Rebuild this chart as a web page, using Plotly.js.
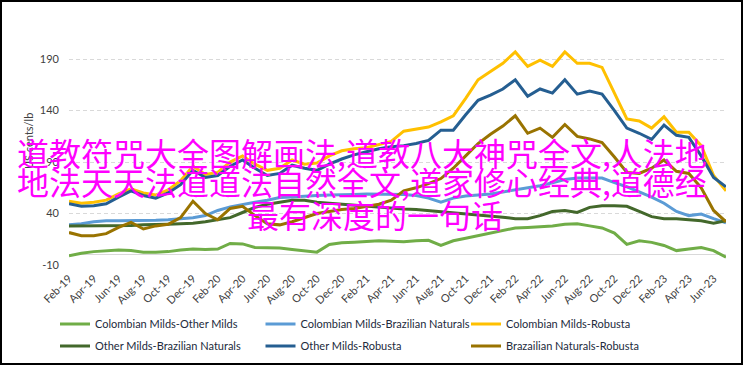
<!DOCTYPE html>
<html><head><meta charset="utf-8">
<script src="https://cdn.plot.ly/plotly-3.0.1.min.js"></script>
<style>html,body{margin:0;padding:0;background:#fff;overflow:hidden}#chart{width:744px;height:366px}</style>
</head><body><div id="chart"></div>
<script>
const months = ["Feb-19","Mar-19","Apr-19","May-19","Jun-19","Jul-19","Aug-19","Sep-19","Oct-19","Nov-19","Dec-19",
"Jan-20","Feb-20","Mar-20","Apr-20","May-20","Jun-20","Jul-20","Aug-20","Sep-20","Oct-20","Nov-20","Dec-20",
"Jan-21","Feb-21","Mar-21","Apr-21","May-21","Jun-21","Jul-21","Aug-21","Sep-21","Oct-21","Nov-21","Dec-21",
"Jan-22","Feb-22","Mar-22","Apr-22","May-22","Jun-22","Jul-22","Aug-22","Sep-22","Oct-22","Nov-22","Dec-22",
"Jan-23","Feb-23","Mar-23","Apr-23","May-23","Jun-23","Jul-23"];
const tickLabels = ["Feb-19","Apr-19","Jun-19","Aug-19","Oct-19","Dec-19","Feb-20","Apr-20","Jun-20","Aug-20","Oct-20","Dec-20",
"Feb-21","Apr-21","Jun-21","Aug-21","Oct-21","Dec-21","Feb-22","Apr-22","Jun-22","Aug-22","Oct-22","Dec-22","Feb-23","Apr-23","Jun-23"];
const yTicks = [-10, 40, 90, 140, 190];

const colMildsOtherMilds = [-1,1.5,3,4,4.5,4,2.5,2.5,3,4.5, 5.5,5,5.5,11,10.5,7,6.5,6.5,5,3.5, 2.5,10,11.5,12,12.5,13.5,13,12.5,13.5,14, 9,13.5,16,18.5,21,23.5,26,26.5,27,28, 29.5,30,28,26,21,10,13.5,12,9,4, 5.5,7,4,-2.5];
const colMildsBrazNat = [29,30,32,33,33,33,33,33.5,34,35, 36,38,43,46.5,49,51,53,55.5,56,57, 57.5,58,58,58.5,59,59,59,58.5,57.5,55, 51,55,57,58,59,61,63,65,67,70, 73,74.5,74.5,74.5,70,66,61,56,50,42, 38,39.5,35,31];
const colMildsRobusta = [52,50,51,53,59,64,60,58,63,72, 86,78,80,90,96,88,82,84,92,88, 89,96,101,103,104,107,110,120,122,124, 129,135,152,170,178,186,197,183,189,183, 197,186,186,182,157,132,130,123,134,119, 119,106,77,62];
const otherMildsBrazNat = [28,28,28,28,28,28.5,29,29,29.5,30, 30.5,32,34,36,41,46,49,51,53,53, 51,50,49,48,47,46,45.5,44.5,44,43, 42,41,40,39,38,36.5,35,35,38,42, 43,41,46,47.5,47.5,47,42,37,35,35, 34,33,30.5,33];
const otherMildsRobusta = [49.5,47,47.5,49.5,56,62,57.5,55,60,68, 82,75,77,86,92,84,77,79,87,84, 82,88,93,97,100,103,105,106,108,111, 121,121,136,150,155,161,170,154,161,157, 170,156,159,156,140,123,118,112,126,116, 114,96,75,66];
const brazNatRobusta = [21.5,18.5,18.5,20.5,26.5,31.5,25,28,29.5,36, 52,40,34,45,47,38,30,29,32,36, 40,42,44,45,47,49,53,62,65,69, 74,84,96,108,117,125,135,118,123,114, 126.5,115,112.5,109,95,80,79,84,92,81, 79,65,43,32];

const seriesNames = ["Colombian Milds-Other Milds","Colombian Milds-Brazilian Naturals","Colombian Milds-Robusta",
"Other Milds-Brazilian Naturals","Other Milds-Robusta","Brazailian Naturals-Robusta"];
const seriesValues = [colMildsOtherMilds, colMildsBrazNat, colMildsRobusta, otherMildsBrazNat, otherMildsRobusta, brazNatRobusta];
const seriesColors = ["#70AD47","#5B9BD5","#FFC000","#43682B","#255E91","#997300"];

const overlayLines = ["道教符咒大全图解画法,道教八大神咒全文,人法地","地法天天法道道法自然全文,道家修心经典,道德经","最有深度的一句话"];

// plot geometry (pixels)
const W = 744, H = 366, L = 69, R = 18, T = 18, B = 101;
const pw = W - L - R, ph = H - T - B;
const px = x => (x - L) / pw;
const py = y => (H - B - y) / ph;

const traces = seriesNames.map((n, k) => ({
  type: 'scatter', mode: 'lines', name: n, x: months, y: seriesValues[k],
  line: {color: seriesColors[k], width: 3},
  legend: k < 3 ? 'legend' : 'legend2', hoverinfo: 'skip'
}));

const baseFont = {family: 'Lato, "Open Sans", sans-serif', size: 11, color: '#404040'};
const legendCommon = {orientation: 'h', xanchor: 'left', yanchor: 'middle', x: px(55),
  font: {family: 'Lato, sans-serif', size: 11, color: '#222a3c'}, entrywidth: 160.5, entrywidthmode: 'pixels',
  bgcolor: 'rgba(0,0,0,0)', borderwidth: 0, itemclick: false};

const layout = {
  width: W, height: H, margin: {l: L, r: R, t: T, b: B, pad: 0, autoexpand: false},
  paper_bgcolor: '#fff', plot_bgcolor: '#fff', font: baseFont, showlegend: true,
  xaxis: {type: 'category', range: [0, months.length - 1], tickmode: 'array', tickvals: tickLabels, ticktext: tickLabels,
    tickangle: -45, showgrid: false, zeroline: false, showline: false, ticks: '', ticklabelstandoff: 4, tickfont: baseFont, automargin: false},
  yaxis: {range: [-10, 230], tickmode: 'array', tickvals: yTicks, ticktext: yTicks.map(String), showgrid: true,
    gridcolor: '#d9d9d9', griddash: '4px,3px', gridwidth: 1, zeroline: true, zerolinecolor: '#d9d9d9', zerolinewidth: 1,
    showline: false, ticks: '', ticklabelstandoff: 9, tickfont: baseFont, automargin: false},
  legend: Object.assign({}, legendCommon, {y: py(324)}),
  legend2: Object.assign({}, legendCommon, {y: py(346)}),
  annotations: [
    {text: 'US cents/lb', xref: 'paper', yref: 'paper', x: 0, xshift: 28 - L, y: py(141), xanchor: 'center', yanchor: 'middle',
     textangle: -90, showarrow: false, font: {family: 'Lato, sans-serif', size: 11, color: '#404040'}},
    {text: overlayLines[0], xref: 'paper', yref: 'paper', x: px(15), y: py(152), xanchor: 'left', yanchor: 'middle', showarrow: false,
     font: {family: '"Noto Sans CJK SC", sans-serif', size: 32, color: '#ff00ff'}},
    {text: overlayLines[1], xref: 'paper', yref: 'paper', x: px(15), y: py(181), xanchor: 'left', yanchor: 'middle', showarrow: false,
     font: {family: '"Noto Sans CJK SC", sans-serif', size: 32, color: '#ff00ff'}},
    {text: overlayLines[2], xref: 'paper', yref: 'paper', x: px(245), y: py(214), xanchor: 'left', yanchor: 'middle', showarrow: false,
     font: {family: '"Noto Sans CJK SC", sans-serif', size: 32, color: '#ff00ff'}}
  ],
  shapes: [{type: 'rect', xref: 'paper', yref: 'paper', x0: px(1), x1: px(742), y0: py(364), y1: py(1),
    line: {color: '#000', width: 2}, fillcolor: 'rgba(0,0,0,0)', layer: 'above'}]
};

Plotly.newPlot('chart', traces, layout, {displayModeBar: false, staticPlot: true});
</script></body></html>
